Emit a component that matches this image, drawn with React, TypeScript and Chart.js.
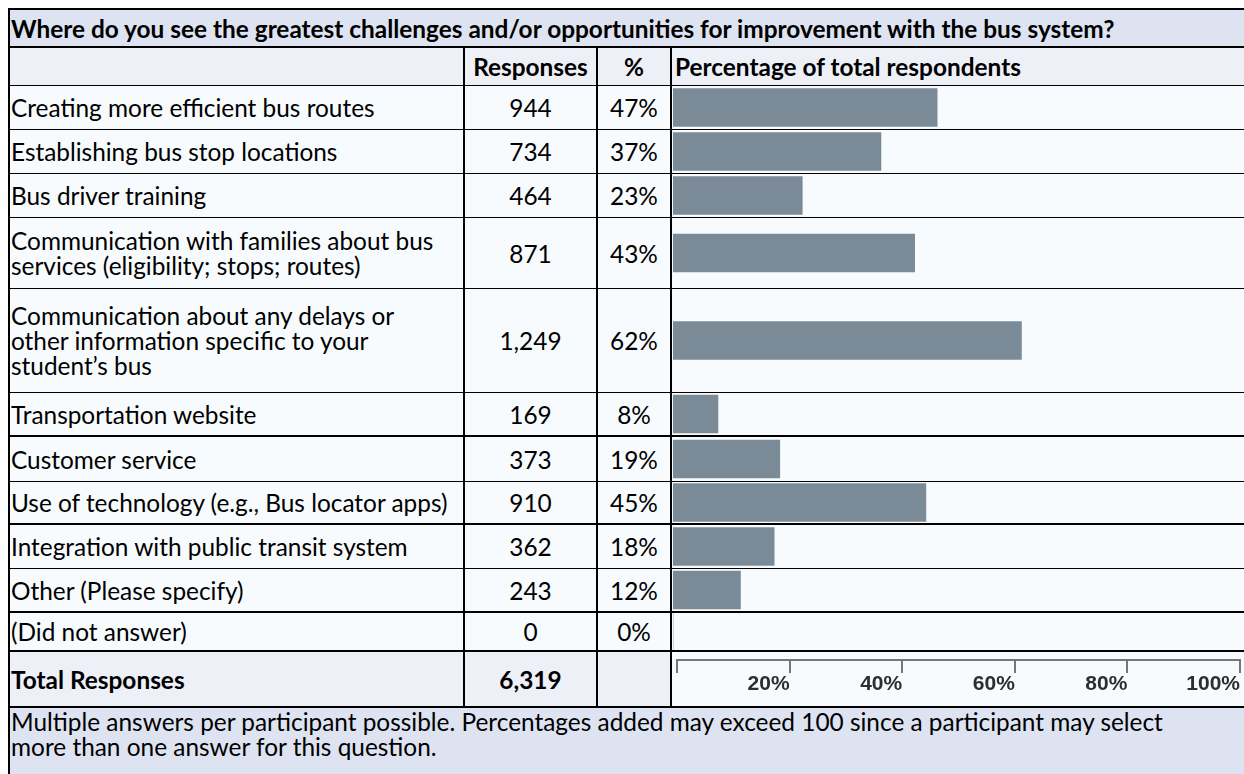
import React, { useEffect, useRef } from "react";
import { Chart, registerables } from "chart.js";

Chart.register(...registerables);

// ---------- DATA ----------
const title =
  "Where do you see the greatest challenges and/or opportunities for improvement with the bus system?";
const columnHeaders = ["", "Responses", "%", "Percentage of total respondents"];
const categories = [
  "Creating more efficient bus routes",
  "Establishing bus stop locations",
  "Bus driver training",
  "Communication with families about bus\nservices (eligibility; stops; routes)",
  "Communication about any delays or\nother information specific to your\nstudent\u2019s bus",
  "Transportation website",
  "Customer service",
  "Use of technology (e.g., Bus locator apps)",
  "Integration with public transit system",
  "Other (Please specify)",
  "(Did not answer)",
];
const responses = [944, 734, 464, 871, 1249, 169, 373, 910, 362, 243, 0];
const percents = [47, 37, 23, 43, 62, 8, 19, 45, 18, 12, 0];
const axisTicks = [0, 20, 40, 60, 80, 100];
const totalLabel = "Total Responses";
const totalResponses = 6319;
const footnoteLines = [
  "Multiple answers per participant possible. Percentages added may exceed 100 since a participant may select",
  "more than one answer for this question.",
];

// ---------- LAYOUT / STYLE ----------
const FONT = "Lato, 'Open Sans', sans-serif";
const FONT_SIZE = 24.4;
const rowHeights = [44, 44, 44, 71, 104, 44, 45, 43, 44, 44, 39];
const rowBottomBorders = [1, 1, 1, 1, 1, 2, 1, 2, 1, 2, 2];
const colWidths = [457, 133, 74, 572];
const TITLE_BG = "#dde3f0";
const HEADER_BG = "#eef0f8";
const CELL_BG = "#f7fbfd";
const BAR_COLOR = "#7b8a97";

const fmt = (n: number) => n.toLocaleString("en-US");

function BarCell({ value, width, height }: { value: number; width: number; height: number }) {
  const ref = useRef<HTMLCanvasElement | null>(null);
  useEffect(() => {
    if (!ref.current) return;
    const chart = new Chart(ref.current, {
      type: "bar",
      data: {
        labels: [""],
        datasets: [
          {
            data: [value],
            backgroundColor: BAR_COLOR,
            borderWidth: 0,
            barThickness: 38,
          },
        ],
      },
      options: {
        indexAxis: "y",
        responsive: false,
        animation: false,
        events: [],
        layout: { padding: { left: 1, right: 9, top: 0, bottom: 0 } },
        plugins: { legend: { display: false }, tooltip: { enabled: false } },
        scales: {
          x: { type: "linear", min: 0, max: 100, display: false },
          y: { display: false },
        },
      },
    });
    return () => chart.destroy();
  }, [value, width, height]);
  return <canvas ref={ref} width={width} height={height} style={{ display: "block", width, height }} />;
}

function AxisCell({ width, height }: { width: number; height: number }) {
  const ref = useRef<HTMLCanvasElement | null>(null);
  useEffect(() => {
    if (!ref.current) return;
    const chart = new Chart(ref.current, {
      type: "bar",
      data: { labels: [""], datasets: [{ data: [], backgroundColor: BAR_COLOR }] },
      options: {
        indexAxis: "y",
        responsive: false,
        animation: false,
        events: [],
        layout: { padding: { left: 5, right: 4, top: 0, bottom: 12 } },
        plugins: { legend: { display: false }, tooltip: { enabled: false } },
        scales: {
          x: {
            type: "linear",
            position: "bottom",
            min: axisTicks[0],
            max: axisTicks[axisTicks.length - 1],
            afterBuildTicks: (axis: any) => {
              axis.ticks = axisTicks.map((v) => ({ value: v }));
            },
            afterFit: (axis: any) => {
              axis.height = 34;
            },
            grid: {
              drawOnChartArea: false,
              drawTicks: true,
              tickLength: 13,
              color: "#777777",
              lineWidth: 2,
            },
            border: { display: true, color: "#777777", width: 2 },
            ticks: {
              align: "end",
              padding: 1,
              color: "#2e2e2e",
              font: { family: "'Liberation Sans', Arial, sans-serif", size: 21, weight: "bold", lineHeight: 1 },
              callback: (v: any) => (Number(v) === 0 ? "" : `${v}%`),
              maxRotation: 0,
              autoSkip: false,
            },
          },
          y: { display: false },
        },
      },
    });
    return () => chart.destroy();
  }, [width, height]);
  return <canvas ref={ref} width={width} height={height} style={{ display: "block", width, height }} />;
}

const cell = (w: number, extra: React.CSSProperties = {}): React.CSSProperties => ({
  boxSizing: "border-box",
  width: w,
  height: "100%",
  display: "flex",
  alignItems: "center",
  borderRight: "2px solid #000",
  ...extra,
});

export default function App() {
  useEffect(() => {
    document.documentElement.style.overflow = "hidden";
    document.body.style.overflow = "hidden";
  }, []);

  const rowStyle = (h: number, bb: number, bg: string): React.CSSProperties => ({
    boxSizing: "border-box",
    height: h,
    display: "flex",
    borderBottom: `${bb}px solid #000`,
    background: bg,
  });

  return (
    <div
      style={{
        position: "fixed",
        left: 8,
        top: 8,
        width: 1236,
        fontFamily: FONT,
        fontSize: FONT_SIZE,
        lineHeight: "25px",
        color: "#000",
        borderLeft: "2px solid #000",
        boxSizing: "border-box",
      }}
    >
      {/* Title */}
      <div
        style={{
          boxSizing: "border-box",
          height: 40,
          borderTop: "2px solid #000",
          borderBottom: "2px solid #000",
          background: TITLE_BG,
          display: "flex",
          alignItems: "center",
          paddingLeft: 1,
          fontWeight: "bold",
          whiteSpace: "nowrap",
        }}
      >
        {title}
      </div>
      {/* Header */}
      <div style={rowStyle(38, 1, HEADER_BG)}>
        <div style={cell(colWidths[0] - 2)}>{columnHeaders[0]}</div>
        <div style={cell(colWidths[1], { justifyContent: "center", fontWeight: "bold" })}>{columnHeaders[1]}</div>
        <div style={cell(colWidths[2], { justifyContent: "center", fontWeight: "bold" })}>{columnHeaders[2]}</div>
        <div style={cell(colWidths[3], { borderRight: "none", paddingLeft: 3, fontWeight: "bold", whiteSpace: "nowrap" })}>
          {columnHeaders[3]}
        </div>
      </div>
      {/* Data rows */}
      {categories.map((cat, i) => (
        <div key={i} style={rowStyle(rowHeights[i], rowBottomBorders[i], CELL_BG)}>
          <div style={cell(colWidths[0] - 2, { paddingLeft: 1, whiteSpace: "pre" })}>{cat}</div>
          <div style={cell(colWidths[1], { justifyContent: "center" })}>{fmt(responses[i])}</div>
          <div style={cell(colWidths[2], { justifyContent: "center" })}>{`${percents[i]}%`}</div>
          <div style={cell(colWidths[3], { borderRight: "none" })}>
            <BarCell value={percents[i]} width={colWidths[3]} height={rowHeights[i] - rowBottomBorders[i]} />
          </div>
        </div>
      ))}
      {/* Total row */}
      <div style={rowStyle(56, 2, HEADER_BG)}>
        <div style={cell(colWidths[0] - 2, { paddingLeft: 1, fontWeight: "bold" })}>{totalLabel}</div>
        <div style={cell(colWidths[1], { justifyContent: "center", fontWeight: "bold" })}>{fmt(totalResponses)}</div>
        <div style={cell(colWidths[2])}></div>
        <div style={cell(colWidths[3], { borderRight: "none", background: CELL_BG })}>
          <AxisCell width={colWidths[3]} height={54} />
        </div>
      </div>
      {/* Footnote */}
      <div
        style={{
          boxSizing: "border-box",
          height: 66,
          background: TITLE_BG,
          paddingLeft: 1,
          paddingTop: 1,
          whiteSpace: "nowrap",
        }}
      >
        {footnoteLines.map((l, i) => (
          <div key={i}>{l}</div>
        ))}
      </div>
    </div>
  );
}
